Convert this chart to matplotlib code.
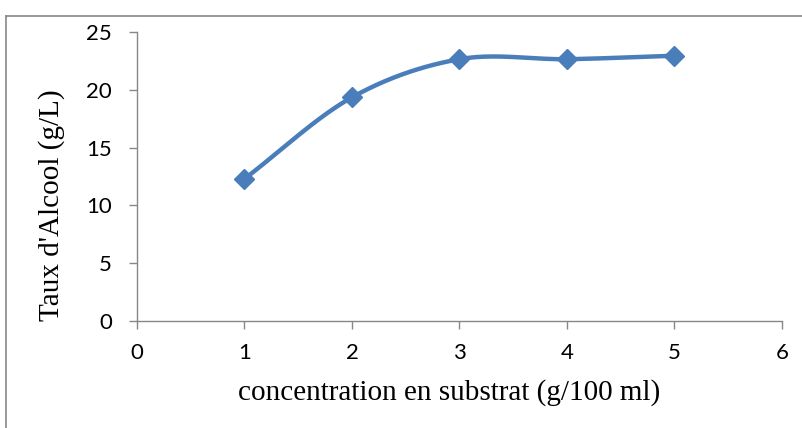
import numpy as np
import matplotlib.pyplot as plt
from matplotlib.lines import Line2D

# values
concentration = [1, 2, 3, 4, 5]
alcool = [12.3, 19.35, 22.65, 22.65, 22.95]
x_ticks = [0, 1, 2, 3, 4, 5, 6]
y_ticks = [0, 5, 10, 15, 20, 25]

BLUE = "#4a7ebb"
GREY = "#878787"


def smooth(xs, ys, n=40):
    # Catmull-Rom style curve through the points, like Excel's smoothed line
    x = np.asarray(xs, float)
    y = np.asarray(ys, float)
    px = np.concatenate([[2 * x[0] - x[1]], x, [2 * x[-1] - x[-2]]])
    py = np.concatenate([[2 * y[0] - y[1]], y, [2 * y[-1] - y[-2]]])
    out_x, out_y = [], []
    t = np.linspace(0, 1, n)
    for i in range(1, len(px) - 2):
        for p, out in ((px, out_x), (py, out_y)):
            p0, p1, p2, p3 = p[i - 1], p[i], p[i + 1], p[i + 2]
            c = 0.5 * ((2 * p1) + (-p0 + p2) * t
                       + (2 * p0 - 5 * p1 + 4 * p2 - p3) * t ** 2
                       + (-p0 + 3 * p1 - 3 * p2 + p3) * t ** 3)
            out.extend(c)
    return out_x, out_y


fig = plt.figure(figsize=(8.03, 4.28), dpi=100)
ax = fig.add_axes([0.1706, 0.25, 0.8032, 0.6752])

sx, sy = smooth(concentration, alcool)
ax.plot(sx, sy, color=BLUE, linewidth=3.2, solid_capstyle="round")
ax.plot(concentration, alcool, linestyle="none", marker="D", markersize=10.5,
        color=BLUE, markeredgecolor=BLUE)

ax.set_xlim(0, 6)
ax.set_ylim(0, 25)
ax.set_xticks(x_ticks)
ax.set_yticks(y_ticks)
for side in ("top", "right"):
    ax.spines[side].set_visible(False)
for side in ("left", "bottom"):
    ax.spines[side].set_color(GREY)
    ax.spines[side].set_linewidth(1)
ax.tick_params(colors=GREY, labelcolor="black", length=6, width=1,
               direction="out", labelsize=16)
ax.tick_params(axis="y", pad=12)
ax.tick_params(axis="x", pad=10)
for lab in ax.get_xticklabels() + ax.get_yticklabels():
    lab.set_family("Lato")

fig.text(449 / 803, 1 - 393 / 428, "concentration en substrat (g/100 ml)",
         family="Liberation Serif", fontsize=21, ha="center", va="center")
fig.text(52 / 803, 1 - 205 / 428, "Taux d'Alcool (g/L)", rotation=90,
         family="Liberation Serif", fontsize=21, ha="center", va="center")

# outer chart frame (cropped at right and bottom)
fig.add_artist(Line2D([6 / 803, 6 / 803], [0, 1 - 16 / 428], color=GREY, lw=1.2,
                      transform=fig.transFigure))
fig.add_artist(Line2D([6 / 803, 1], [1 - 16 / 428, 1 - 16 / 428], color=GREY, lw=1.2,
                      transform=fig.transFigure))

fig.savefig("out.png", dpi=100)
